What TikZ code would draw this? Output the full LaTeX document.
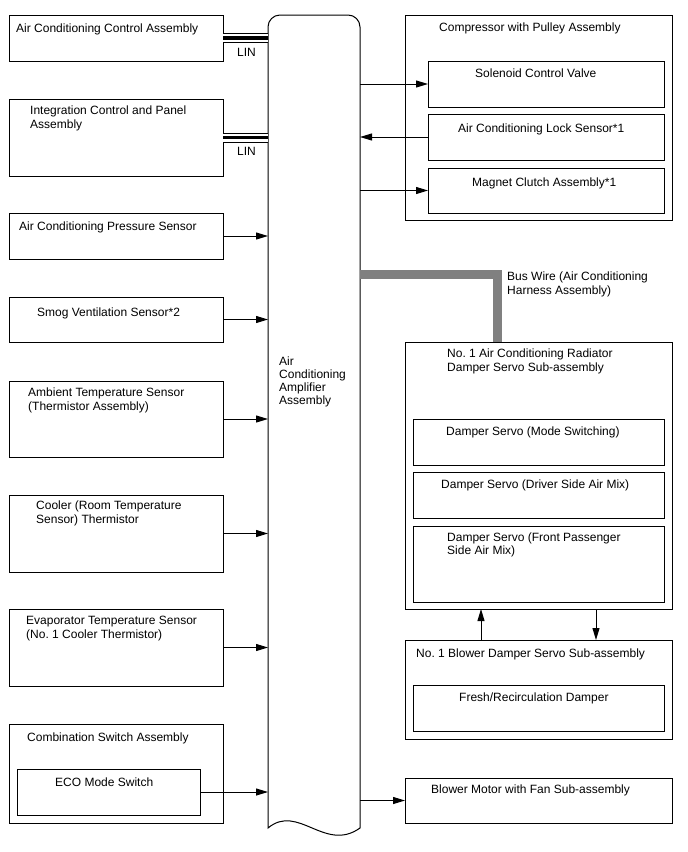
\documentclass[tikz,border=0pt]{standalone}
\usepackage{fontspec}
\setmainfont{Liberation Sans}
\usetikzlibrary{arrows.meta}
\definecolor{busgray}{HTML}{808080}
\frenchspacing

\begin{document}
\begin{tikzpicture}[x=1pt,y=1pt,font=\fontsize{12}{14}\selectfont,
    box/.style={draw,line width=1pt,anchor=north west,inner sep=0pt,outer sep=0pt},
    txt/.style={anchor=base west,align=left,inner sep=0pt},
    sig/.style={line width=1pt,-{Triangle[length=12pt,width=7pt]}},
    lin/.style={draw,line width=10pt,postaction={draw=white,line width=8pt},postaction={draw,line width=3.5pt}},
    bus/.style={draw=busgray,line width=9pt,line join=miter}]
  \useasboundingbox (0,0) rectangle (688,-852);

  % amplifier in the middle
  \node[anchor=north west,minimum width=92,minimum height=813,inner sep=0pt,outer sep=0pt] (amp) at (268,-15) {};
  \draw[line width=1pt] (amp.south west) -- ([yshift=-12]amp.north west)
    arc[start angle=180,end angle=90,radius=12] -- ([xshift=-12]amp.north east)
    arc[start angle=90,end angle=0,radius=12] -- (amp.south east)
    .. controls +(-35,-25) and +(30,25) .. (amp.south west) -- cycle;
  % (base of a multi-line text is its last line)
  \node[txt,font=\fontsize{12}{13}\selectfont] (amp-t) at ([shift={(11,-389)}]amp.north west) {Air\\Conditioning\\Amplifier\\Assembly};

  % left side
  \node[box,minimum width=214,minimum height=46] (acc) at (9,-15) {};
  \node[box,minimum width=214,minimum height=77] (icp) at (9,-99) {};
  \node[box,minimum width=214,minimum height=46] (pres) at (9,-213) {};
  \node[box,minimum width=214,minimum height=45] (smog) at (9,-297) {};
  \node[box,minimum width=214,minimum height=76] (amb) at (9,-381) {};
  \node[box,minimum width=214,minimum height=77] (cool) at (9,-495) {};
  \node[box,minimum width=214,minimum height=77] (evap) at (9,-609) {};
  \node[box,minimum width=214,minimum height=99] (comb) at (9,-724) {};
  \node[box,minimum width=183,minimum height=46] (eco) at (17,-769) {};

  \node[txt] (acc-t) at ([shift={(7,-17)}]acc.north west) {Air Conditioning Control Assembly};
  \node[txt] (icp-t) at ([shift={(21,-29)}]icp.north west) {Integration Control and Panel\\Assembly};
  \node[txt] (pres-t) at ([shift={(10,-17)}]pres.north west) {Air Conditioning Pressure Sensor};
  \node[txt] (smog-t) at ([shift={(28,-19)}]smog.north west) {Smog Ventilation Sensor*2};
  \node[txt] (amb-t) at ([shift={(19,-29)}]amb.north west) {Ambient Temperature Sensor\\(Thermistor Assembly)};
  \node[txt] (cool-t) at ([shift={(27,-28)}]cool.north west) {Cooler (Room Temperature\\Sensor) Thermistor};
  \node[txt] (evap-t) at ([shift={(17,-29)}]evap.north west) {Evaporator Temperature Sensor\\(No. 1 Cooler Thermistor)};
  \node[txt] (comb-t) at ([shift={(18,-17)}]comb.north west) {Combination Switch Assembly};
  \node[txt] (eco-t) at ([shift={(38,-17)}]eco.north west) {ECO Mode Switch};

  % LIN lines
  \draw[lin] (acc.east) -- (acc.east -| amp.west);
  \draw[lin] (icp.east) -- (icp.east -| amp.west);
  \node[txt] (lin1) at (237,-56) {LIN};
  \node[txt] (lin2) at (237,-155) {LIN};

  \draw[sig] (pres.east) -- (pres.east -| amp.west);
  \draw[sig] (smog.east) -- (smog.east -| amp.west);
  \draw[sig] (amb.east) -- (amb.east -| amp.west);
  \draw[sig] (cool.east) -- (cool.east -| amp.west);
  \draw[sig] (evap.east) -- (evap.east -| amp.west);
  \draw[sig] (eco.east) -- (eco.east -| amp.west);

  % right side
  \node[box,minimum width=267,minimum height=205] (comp) at (405,-15) {};
  \node[box,minimum width=236,minimum height=46] (scv) at (428,-61) {};
  \node[box,minimum width=236,minimum height=46] (lock) at (428,-114) {};
  \node[box,minimum width=236,minimum height=45] (mc) at (428,-168) {};
  \node[box,minimum width=267,minimum height=267] (dss) at (405,-342) {};
  \node[box,minimum width=251,minimum height=46] (mode) at (413,-419) {};
  \node[box,minimum width=251,minimum height=46] (drv) at (413,-472) {};
  \node[box,minimum width=251,minimum height=76] (psg) at (413,-526) {};
  \node[box,minimum width=267,minimum height=99] (bds) at (405,-640) {};
  \node[box,minimum width=251,minimum height=46] (frd) at (413,-685) {};
  \node[box,minimum width=267,minimum height=45] (blw) at (405,-778) {};

  \node[txt] (comp-t) at ([shift={(34,-16)}]comp.north west) {Compressor with Pulley Assembly};
  \node[txt] (scv-t) at ([shift={(47,-16)}]scv.north west) {Solenoid Control Valve};
  \node[txt] (lock-t) at ([shift={(30,-18)}]lock.north west) {Air Conditioning Lock Sensor*1};
  \node[txt] (mc-t) at ([shift={(44,-18)}]mc.north west) {Magnet Clutch Assembly*1};
  \node[txt] (dss-t) at ([shift={(42,-29)}]dss.north west) {No. 1 Air Conditioning Radiator\\Damper Servo Sub-assembly};
  \node[txt] (mode-t) at ([shift={(33,-16)}]mode.north west) {Damper Servo (Mode Switching)};
  \node[txt] (drv-t) at ([shift={(28,-16)}]drv.north west) {Damper Servo (Driver Side Air Mix)};
  \node[txt,font=\fontsize{12}{13}\selectfont] (psg-t) at ([shift={(34,-28)}]psg.north west) {Damper Servo (Front Passenger\\Side Air Mix)};
  \node[txt] (bds-t) at ([shift={(11,-17)}]bds.north west) {No. 1 Blower Damper Servo Sub-assembly};
  \node[txt] (frd-t) at ([shift={(46,-16)}]frd.north west) {Fresh/Recirculation Damper};
  \node[txt] (blw-t) at ([shift={(26,-15)}]blw.north west) {Blower Motor with Fan Sub-assembly};

  \draw[sig] (scv.west -| amp.east) -- (scv.west);
  \draw[sig] (lock.west) -- (lock.west -| amp.east);
  \draw[sig] (mc.west -| amp.east) -- (mc.west);
  \draw[sig] (blw.west -| amp.east) -- (blw.west);
  \draw[sig] ([xshift=-57.5]bds.north) -- ([xshift=-57.5]dss.south);
  \draw[sig] ([xshift=57.5]dss.south) -- ([xshift=57.5]bds.north);

  % bus wire
  \coordinate (bw) at (497,-274);
  \draw[bus] (amp.east |- bw) -- (bw) -- (bw |- dss.north);
  \node[txt] (bw-t) at (507,-294) {Bus Wire (Air Conditioning\\Harness Assembly)};
\end{tikzpicture}
\end{document}
